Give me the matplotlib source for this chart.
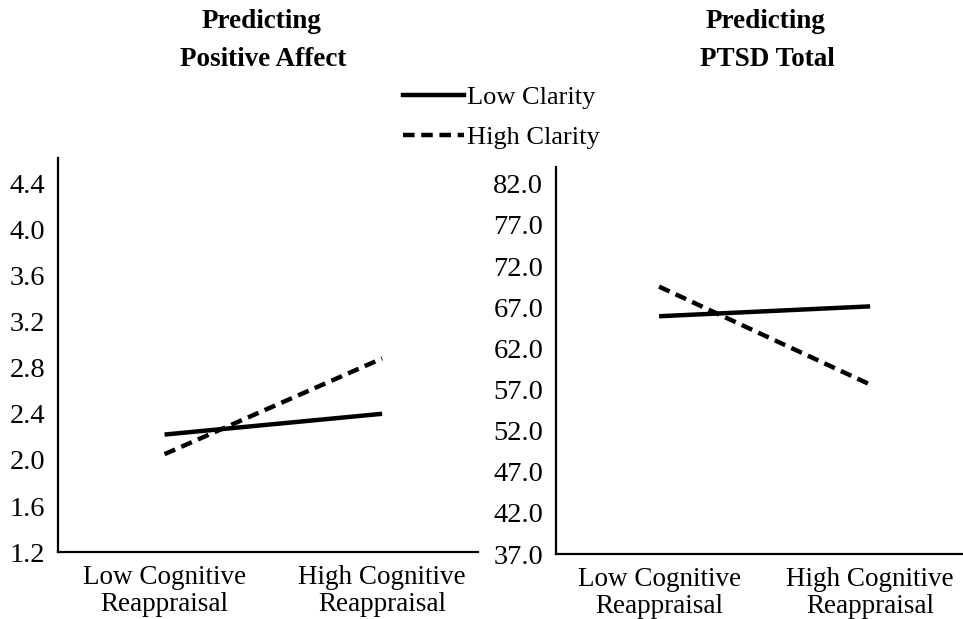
import matplotlib.pyplot as plt
from matplotlib.lines import Line2D

# datos
categories = ['Low Cognitive\nReappraisal', 'High Cognitive\nReappraisal']
series_names = ['Low Clarity', 'High Clarity']

pa_low_clarity = [2.22, 2.40]
pa_high_clarity = [2.05, 2.88]
ptsd_low_clarity = [65.9, 67.1]
ptsd_high_clarity = [69.5, 57.6]

pa_ticks = [1.2, 1.6, 2.0, 2.4, 2.8, 3.2, 3.6, 4.0, 4.4]
ptsd_ticks = [37.0, 42.0, 47.0, 52.0, 57.0, 62.0, 67.0, 72.0, 77.0, 82.0]

plt.rcParams['font.family'] = ['Liberation Serif', 'DejaVu Serif']

fig = plt.figure(figsize=(9.63, 6.19), dpi=100)

ax1 = fig.add_axes([0.0602, 0.108, 0.436, 0.637])
ax2 = fig.add_axes([0.577, 0.105, 0.423, 0.626])

lw = 3.2
dash = (2.6, 1.5)


def style_axis(ax, ticks, fmt, ylim):
    ax.set_xlim(-0.49, 1.44)
    ax.set_ylim(*ylim)
    ax.set_yticks(ticks)
    ax.set_yticklabels([fmt.format(t) for t in ticks])
    ax.set_xticks([0, 1])
    ax.set_xticklabels(categories)
    ax.tick_params(axis='both', length=0)
    ax.tick_params(axis='y', pad=9, labelsize=20.5)
    ax.tick_params(axis='x', pad=9.5, labelsize=19.5)
    for lbl in ax.get_xticklabels():
        lbl.set_linespacing(1.1)
    ax.spines['top'].set_visible(False)
    ax.spines['right'].set_visible(False)
    ax.spines['left'].set_linewidth(1.6)
    ax.spines['bottom'].set_linewidth(1.6)


ax1.plot([0, 1], pa_low_clarity, color='black', lw=lw, solid_capstyle='butt')
ax1.plot([0, 1], pa_high_clarity, color='black', lw=lw, linestyle=(0, dash))
style_axis(ax1, pa_ticks, '{:.1f}', (1.2, 4.62))

ax2.plot([0, 1], ptsd_low_clarity, color='black', lw=lw, solid_capstyle='butt')
ax2.plot([0, 1], ptsd_high_clarity, color='black', lw=lw, linestyle=(0, dash))
style_axis(ax2, ptsd_ticks, '{:.1f}', (37.0, 84.1))

# titulos
tsize = 19.5
fig.text(262 / 963, 1 - 22 / 619, 'Predicting', ha='center', va='center',
         fontsize=tsize, fontweight='bold')
fig.text(263 / 963, 1 - 60 / 619, 'Positive Affect', ha='center', va='center',
         fontsize=tsize, fontweight='bold')
fig.text(765 / 963, 1 - 22 / 619, 'Predicting', ha='center', va='center',
         fontsize=tsize, fontweight='bold')
fig.text(767 / 963, 1 - 60 / 619, 'PTSD Total', ha='center', va='center',
         fontsize=tsize, fontweight='bold')

# leyenda
handles = [Line2D([], [], color='black', lw=lw),
           Line2D([], [], color='black', lw=lw, linestyle=(0, dash))]
fig.legend(handles, series_names, loc='upper left',
           bbox_to_anchor=(403 / 963, 1 - 86 / 619),
           frameon=False, fontsize=19, handlelength=2.3, handletextpad=0.12,
           borderpad=0, borderaxespad=0, labelspacing=0.62)

fig.savefig('out.png', dpi=100)
